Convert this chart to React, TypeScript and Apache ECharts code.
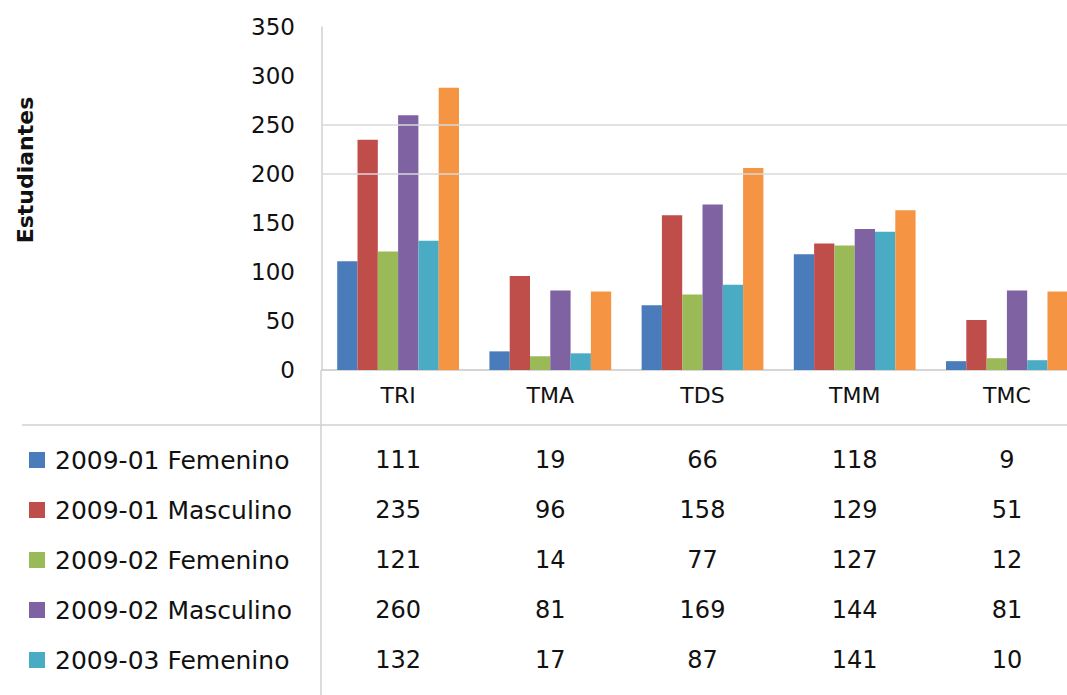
import React, { useEffect, useRef } from "react";
import * as echarts from "echarts";

const categories = ["TRI", "TMA", "TDS", "TMM", "TMC"];
const seriesNames = [
  "2009-01 Femenino",
  "2009-01 Masculino",
  "2009-02 Femenino",
  "2009-02 Masculino",
  "2009-03 Femenino",
  "2009-03 Masculino",
];
const fem0901 = [111, 19, 66, 118, 9];
const mas0901 = [235, 96, 158, 129, 51];
const fem0902 = [121, 14, 77, 127, 12];
const mas0902 = [260, 81, 169, 144, 81];
const fem0903 = [132, 17, 87, 141, 10];
const mas0903 = [288, 80, 206, 163, 80];
const yTicks = { min: 0, max: 350, interval: 50 };
const gridLineValues = [200, 250];
const tableRowCount = 5;

const colors = ["#4A7BBA", "#BF4D4A", "#99BA57", "#7F62A1", "#4AABC5", "#F59543"];
const FONT = "DejaVu Sans";

export default function App() {
  const ref = useRef<HTMLDivElement>(null);
  useEffect(() => {
    if (!ref.current) return;
    const chart = echarts.init(ref.current, null, { renderer: "svg" });
    const allValues = [fem0901, mas0901, fem0902, mas0902, fem0903, mas0903];
    const tableRows = seriesNames.slice(0, tableRowCount);
    const tableData: any[] = [];
    tableRows.forEach((name, r) => {
      categories.forEach((c, ci) => {
        tableData.push([c, name, allValues[r][ci]]);
      });
    });
    const rich: any = {
      t: { fontFamily: FONT, fontSize: 25, color: "#111111", padding: [0, 0, 0, 10] },
    };
    tableRows.forEach((_, i) => {
      rich["s" + i] = { width: 16, height: 16, backgroundColor: colors[i] };
    });

    const option: any = {
      animation: false,
      backgroundColor: "#ffffff",
      grid: [
        { left: 322, width: 761, top: 27, height: 343 },
        { left: 322, width: 761, top: 435, height: 250 },
      ],
      xAxis: [
        {
          type: "category",
          gridIndex: 0,
          data: categories,
          axisLine: { show: true, lineStyle: { color: "#c8c8c8", width: 1.5 } },
          axisTick: { show: false },
          axisLabel: { fontFamily: FONT, fontSize: 22, color: "#111111", margin: 14 },
        },
        {
          type: "category",
          gridIndex: 1,
          data: categories,
          axisLine: { show: false },
          axisTick: { show: false },
          axisLabel: { show: false },
        },
      ],
      yAxis: [
        {
          type: "value",
          gridIndex: 0,
          min: yTicks.min,
          max: yTicks.max,
          interval: yTicks.interval,
          splitLine: { show: false },
          axisLine: { show: true, lineStyle: { color: "#d0d0d0", width: 1.5 } },
          axisTick: { show: false },
          axisLabel: { fontFamily: FONT, fontSize: 23, color: "#111111", margin: 27 },
        },
        {
          type: "category",
          gridIndex: 1,
          inverse: true,
          data: tableRows,
          axisLine: { show: false },
          axisTick: { show: false },
          splitLine: { show: false },
          axisLabel: {
            align: "left",
            margin: 293,
            formatter: (v: string, i: number) => `{s${i}|}{t|${v}}`,
            rich,
          },
        },
      ],
      graphic: [
        {
          type: "text",
          x: 25,
          y: 170,
          rotation: Math.PI / 2,
          style: {
            text: "Estudiantes",
            fontFamily: FONT,
            fontSize: 22,
            fontWeight: "bold",
            fill: "#111111",
            align: "center",
            verticalAlign: "middle",
          },
        },
        {
          type: "line",
          shape: { x1: 321, y1: 370, x2: 321, y2: 695 },
          style: { stroke: "#d0d0d0", lineWidth: 1.5 },
        },
        {
          type: "line",
          shape: { x1: 22, y1: 425, x2: 1100, y2: 425 },
          style: { stroke: "#d0d0d0", lineWidth: 1.5 },
        },
      ],
      series: [
        {
          type: "line",
          xAxisIndex: 0,
          yAxisIndex: 0,
          data: [],
          z: 1,
          silent: true,
          markLine: {
            silent: true,
            symbol: "none",
            label: { show: false },
            lineStyle: { color: "#d9d9d9", type: "solid", width: 1.5 },
            data: gridLineValues.map((v) => ({ yAxis: v })),
          },
        },
        ...seriesNames.map((name, i) => ({
          type: "bar",
          name,
          xAxisIndex: 0,
          yAxisIndex: 0,
          data: allValues[i],
          z: 2,
          barGap: "0%",
          barCategoryGap: "20%",
          itemStyle: { color: colors[i] },
        })),
        {
          type: "scatter",
          xAxisIndex: 1,
          yAxisIndex: 1,
          symbolSize: 0,
          data: tableData,
          itemStyle: { opacity: 1 },
          label: {
            show: true,
            position: "inside",
            formatter: (p: any) => String(p.value[2]),
            fontFamily: FONT,
            fontSize: 24,
            color: "#111111",
            opacity: 1,
            textBorderWidth: 0,
          },
        },
      ],
    };
    chart.setOption(option);
    return () => chart.dispose();
  }, []);
  return (
    <div
      style={{
        position: "fixed",
        left: 0,
        top: 0,
        width: 1067,
        height: 695,
        overflow: "hidden",
        background: "#fff",
      }}
    >
      <div ref={ref} style={{ width: 1100, height: 695 }} />
    </div>
  );
}
